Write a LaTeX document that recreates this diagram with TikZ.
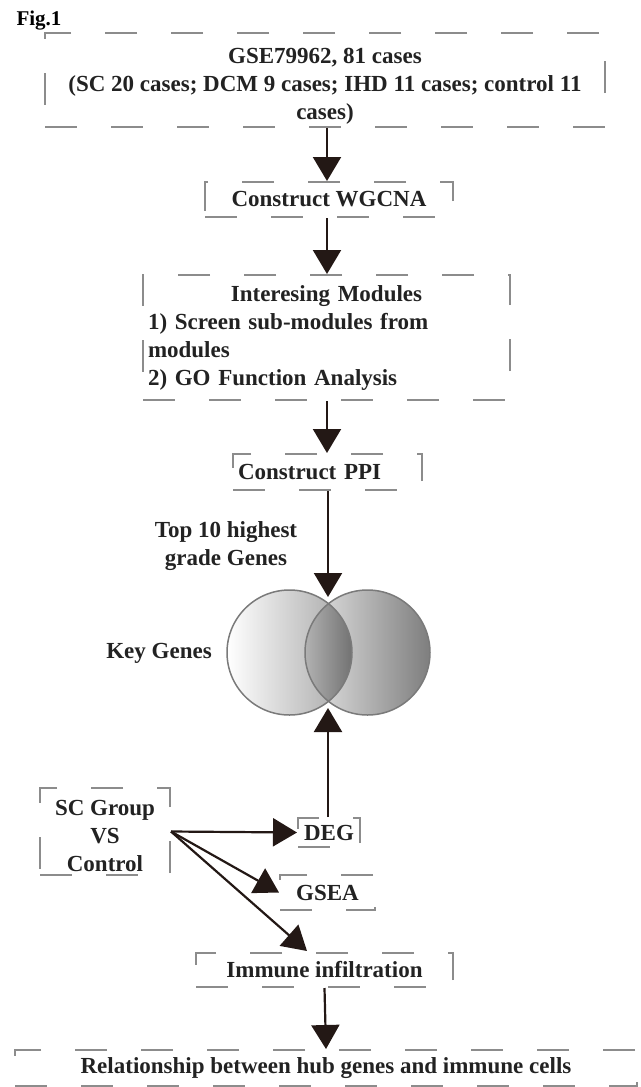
\documentclass[tikz,border=0pt]{standalone}
\usepackage{fontspec}
\setmainfont{Liberation Serif}
\usetikzlibrary{arrows.meta}
\definecolor{boxc}{HTML}{8C8C8C}
\definecolor{inkc}{HTML}{231815}
\definecolor{textc}{HTML}{222222}
\definecolor{ringc}{HTML}{7A7A7A}
\definecolor{vlr}{HTML}{A4A4A4}
\definecolor{vrl}{HTML}{E6E6E6}
\definecolor{vrr}{HTML}{7E7E7E}
\definecolor{vil}{HTML}{B2B2B2}
\definecolor{vir}{HTML}{727272}
\begin{document}
\begin{tikzpicture}[x=1pt,y=-1pt,
  txt/.style={font={\fontsize{23pt}{28pt}\selectfont\bfseries}, text=textc},
  dbox/.style={txt, draw=boxc, line width=2pt, dash pattern=on 32pt off 34pt, inner sep=2pt},
  arr/.style={draw=inkc, line width=2.2pt, -{Triangle[length=24pt,width=28pt]}}]
\useasboundingbox (0,0) rectangle (640,1087);
\coordinate (c) at (327,0);
\node[txt, font={\fontsize{21pt}{24pt}\selectfont\bfseries}, text=black] (fig) at (39,21) {Fig.1};
\node[dbox, align=center, minimum width=560pt, minimum height=94pt] (gse) at (325,80)
  {\rule{0pt}{28pt}GSE79962, 81 cases\\(SC 20 cases; DCM 9 cases; IHD 11 cases; control 11\\cases)};
\node[dbox, minimum width=248pt, minimum height=35pt] (wg) at (329,199.5) {Construct WGCNA};
\node[dbox, text width=357pt, align=left, inner xsep=5pt, minimum height=125pt] (mod) at (326.5,337.5)
  {\hfill Interesing Modules\hfill\mbox{}\\1) Screen sub-modules from\\modules\\2) GO Function Analysis};
\node[dbox, text width=179pt, align=left, inner xsep=5pt, minimum height=36pt] (ppi) at (327.5,472) {Construct PPI};
\node[txt, align=center] (top) at (226,546) {Top 10 highest\\grade Genes};
% Venn
\node[circle, inner sep=0pt, minimum size=125pt, left color=white, right color=vlr] (vl) at (289.5,652.5) {};
\node[circle, inner sep=0pt, minimum size=125pt, left color=vrl, right color=vrr] (vr) at (367.5,652.5) {};
\begin{scope}
  \clip (vl.center) circle[radius=62.5pt];
  \clip (vr.center) circle[radius=62.5pt];
  \shade[left color=vil, right color=vir] (305,585) rectangle (352,720);
\end{scope}
\draw[ringc, line width=1.5pt] (vl.center) circle[radius=62.5pt];
\draw[ringc, line width=1.5pt] (vr.center) circle[radius=62.5pt];
\coordinate (vtop) at (328,597);
\coordinate (vbot) at (328,708);
\node[txt] (key) at (159,653) {Key Genes};
% lower part
\node[dbox, align=center, minimum width=130pt, minimum height=87pt] (sc) at (105,831.5) {\rule{0pt}{24pt}SC Group\\VS\\Control};
\node[dbox, inner sep=0pt, minimum width=62pt, minimum height=29pt] (deg) at (329,832.5) {DEG};
\node[dbox, inner sep=0pt, minimum width=95pt, minimum height=35pt] (gsea) at (327.5,892.5) {GSEA};
\node[dbox, minimum width=257pt, minimum height=34pt] (imm) at (324.5,970) {Immune infiltration};
\node[dbox, minimum width=622pt, minimum height=36pt] (rel) at (326,1068) {Relationship between hub genes and immune cells};
\coordinate (itip) at (307,951);
% arrows
\draw[arr] (gse.south -| c) -- (wg.north -| c);
\draw[arr] (wg.south -| c) -- (mod.north -| c);
\draw[arr] (mod.south -| c) -- (ppi.north -| c);
\draw[arr] (ppi.south -| vtop) -- (vtop);
\draw[arr] (deg.north -| vbot) -- (vbot);
\draw[arr] (sc.east) -- (deg.west);
\draw[arr] (sc.east) -- (gsea.west);
\draw[arr] (sc.east) -- (itip);
\draw[arr] (imm.south) -- (rel.north);
\end{tikzpicture}
\end{document}
